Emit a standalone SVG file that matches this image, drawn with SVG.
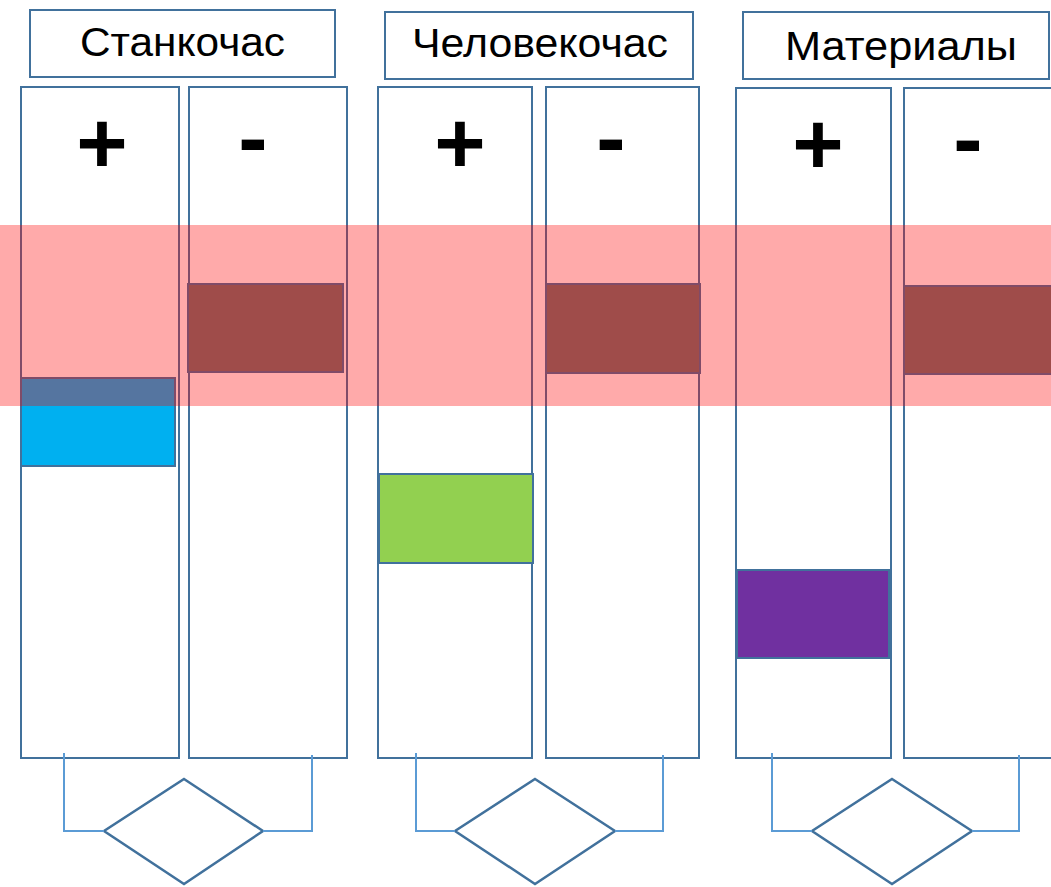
<svg xmlns="http://www.w3.org/2000/svg" width="1051" height="887" viewBox="0 0 1051 887">
<style>
.box{fill:#fff;stroke:#41719C;stroke-width:2}
.col{fill:#fff;stroke:#41719C;stroke-width:2}
.bar{stroke:#41719C;stroke-width:2}
.title{font-family:"Liberation Sans",Arial,sans-serif;font-size:40px;fill:#000}
.sign{font-family:"Liberation Sans",Arial,sans-serif;font-size:88px;font-weight:bold;fill:#000;text-anchor:middle}
.dia{fill:#fff;stroke:#41719C;stroke-width:2.5}
.con{fill:none;stroke:#5B9BD5;stroke-width:2}
</style>
<rect width="1051" height="887" fill="#fff"/>
<g id="header-stankochas">
<rect class="box" x="30" y="10" width="305" height="67"/>
<text class="title" x="80" y="56" textLength="205" lengthAdjust="spacingAndGlyphs">Станкочас</text>
</g>
<g id="header-chelovekochas">
<rect class="box" x="385" y="12" width="308" height="67"/>
<text class="title" x="412" y="57" textLength="256" lengthAdjust="spacingAndGlyphs">Человекочас</text>
</g>
<g id="header-materialy">
<rect class="box" x="743" y="12" width="306" height="67"/>
<text class="title" x="785" y="60" textLength="232" lengthAdjust="spacingAndGlyphs">Материалы</text>
</g>
<g id="col1-plus">
<rect class="col" x="21" y="87" width="158" height="671"/>
<text class="sign" x="102" y="173">+</text>
</g>
<g id="col1-minus">
<rect class="col" x="189" y="87" width="158" height="671"/>
<text class="sign" x="253" y="167">-</text>
</g>
<g id="col2-plus">
<rect class="col" x="378" y="87" width="154" height="671"/>
<text class="sign" x="460" y="173">+</text>
</g>
<g id="col2-minus">
<rect class="col" x="546" y="87" width="153" height="671"/>
<text class="sign" x="611" y="167">-</text>
</g>
<g id="col3-plus">
<rect class="col" x="736" y="88" width="155" height="670"/>
<text class="sign" x="818" y="174">+</text>
</g>
<g id="col3-minus">
<rect class="col" x="904" y="88" width="160" height="670"/>
<text class="sign" x="968" y="168">-</text>
</g>
<g id="bar-blue"><rect class="bar" x="21" y="378" width="154" height="88" fill="#00B0F0"/></g>
<g id="bar-green"><rect class="bar" x="379" y="474" width="154" height="89" fill="#92D050"/></g>
<g id="bar-purple"><rect class="bar" x="737" y="570" width="152" height="88" fill="#7030A0"/></g>
<g id="bar-minus1"><rect class="bar" x="188" y="284" width="155" height="88" fill="#707370"/></g>
<g id="bar-minus2"><rect class="bar" x="546" y="284" width="154" height="89" fill="#707370"/></g>
<g id="bar-minus3"><rect class="bar" x="904" y="286" width="160" height="88" fill="#707370"/></g>
<g id="diamond1"><polygon class="dia" points="184,779 263,831 184,884 104,831"/></g>
<g id="diamond2"><polygon class="dia" points="535,779 615,831 535,884 455,831"/></g>
<g id="diamond3"><polygon class="dia" points="892,779 972,831 892,884 812,831"/></g>
<g id="connectors">
<polyline class="con" points="64,753 64,831 104,831"/>
<polyline class="con" points="263,831 312,831 312,755"/>
<polyline class="con" points="416,753 416,831 455,831"/>
<polyline class="con" points="615,831 663,831 663,755"/>
<polyline class="con" points="772,753 772,831 812,831"/>
<polyline class="con" points="972,831 1019,831 1019,755"/>
</g>
<g id="highlight-band"><rect x="0" y="225" width="1051" height="181" fill="#FF0000" fill-opacity="0.333"/></g>
</svg>
